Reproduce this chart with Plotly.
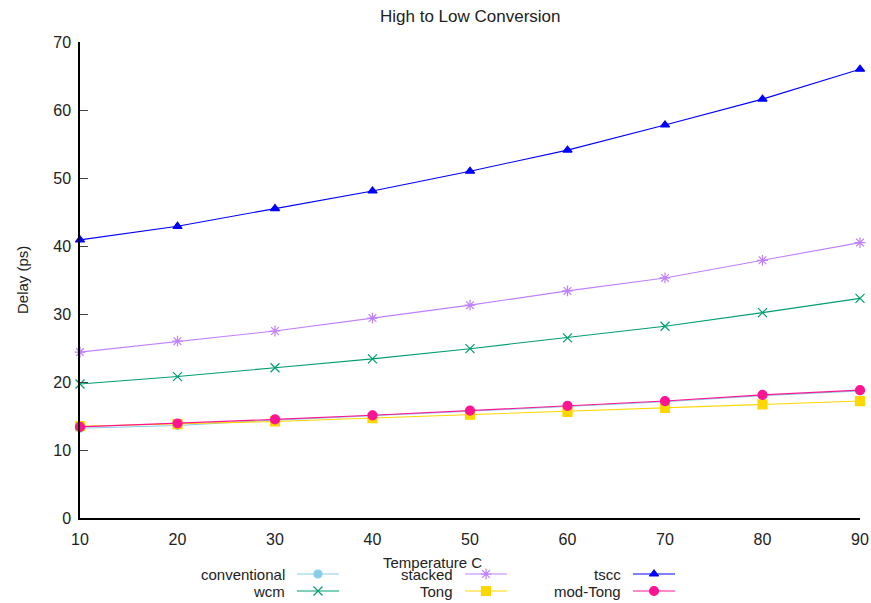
import plotly.graph_objects as go

# Temperature sweep (deg C)
temperature = [10, 20, 30, 40, 50, 60, 70, 80, 90]

# Delay (ps) for each level-shifter design
conventional = [13.2, 13.6, 14.4, 15.0, 15.7, 16.4, 17.1, 18.0, 18.7]
stacked = [24.4, 26.0, 27.5, 29.4, 31.3, 33.4, 35.3, 37.9, 40.5]
tscc = [40.9, 42.9, 45.5, 48.1, 51.0, 54.1, 57.8, 61.6, 66.0]
wcm = [19.7, 20.8, 22.1, 23.4, 24.9, 26.5, 28.2, 30.2, 32.3]
tong = [13.5, 13.8, 14.2, 14.7, 15.2, 15.6, 16.2, 16.7, 17.2]
mod_tong = [13.4, 13.9, 14.5, 15.1, 15.8, 16.5, 17.2, 18.1, 18.8]

series_names = ["conventional", "stacked", "tscc", "wcm", "Tong", "mod-Tong"]
series_values = [conventional, stacked, tscc, wcm, tong, mod_tong]
series_colors = ["#87ceeb", "#c080ff", "#0000ff", "#009e73", "#ffd700", "#ff1493"]
series_symbols = ["circle", "asterisk-open", "triangle-up", "x-thin-open", "square", "circle"]
series_sizes = [8, 9, 8, 9, 9, 9]

y_ticks = [0, 10, 20, 30, 40, 50, 60, 70]

W, H = 871, 603
PLOT_L, PLOT_R, PLOT_T, PLOT_B = 80, 860, 42, 518
FONT = "Liberation Sans, Arial, sans-serif"
TEXT = "#222222"
LINE_W = 1.1

fig = go.Figure()

# draw order: lower-priority lines first so mod-Tong sits on top
order = [0, 4, 5, 3, 1, 2]
for i in order:
    fig.add_trace(go.Scatter(
        x=temperature, y=series_values[i], name=series_names[i],
        mode="lines+markers",
        line=dict(color=series_colors[i], width=LINE_W),
        marker=dict(symbol=series_symbols[i], size=series_sizes[i],
                    color=series_colors[i],
                    line=dict(color=series_colors[i], width=1.2)),
        showlegend=False, hoverinfo="skip", cliponaxis=False,
    ))

# Custom legend (label left of the key), drawn on a pixel-space overlay axis
legend_cols = [297, 465, 633]
legend_rows = [574, 591]
key_len = 42
for k, i in enumerate(range(6)):
    row, col = divmod(k, 3)
    x0 = legend_cols[col]
    y0 = legend_rows[row]
    fig.add_trace(go.Scatter(
        x=[x0, x0 + key_len], y=[y0, y0], mode="lines",
        line=dict(color=series_colors[i], width=LINE_W),
        xaxis="x2", yaxis="y2", showlegend=False, hoverinfo="skip",
    ))
    fig.add_trace(go.Scatter(
        x=[x0 + key_len / 2], y=[y0], mode="markers",
        marker=dict(symbol=series_symbols[i], size=series_sizes[i],
                    color=series_colors[i],
                    line=dict(color=series_colors[i], width=1.2)),
        xaxis="x2", yaxis="y2", showlegend=False, hoverinfo="skip",
    ))
    fig.add_annotation(
        x=x0 - 10, y=y0, xref="x2", yref="y2", text=series_names[i],
        showarrow=False, xanchor="right", yanchor="middle",
        font=dict(family=FONT, size=15, color=TEXT),
    )

fig.update_layout(
    width=W, height=H,
    margin=dict(l=0, r=0, t=0, b=0),
    paper_bgcolor="white", plot_bgcolor="rgba(0,0,0,0)",
    font=dict(family=FONT, size=16, color=TEXT),
    showlegend=False,
    xaxis=dict(
        domain=[PLOT_L / W, PLOT_R / W],
        range=[10, 90], tickvals=temperature,
        showgrid=False, zeroline=False,
        showline=True, linecolor="#000000", linewidth=1.5,
        ticks="", ticklabelstandoff=6,
        tickfont=dict(family=FONT, size=16, color=TEXT),
        automargin=False,
    ),
    yaxis=dict(
        domain=[(H - PLOT_B) / H, (H - PLOT_T) / H],
        range=[0, 70], tickvals=y_ticks,
        showgrid=False, zeroline=False,
        showline=True, linecolor="#000000", linewidth=1.5,
        ticks="inside", ticklen=8, tickcolor="#444444", tickwidth=1,
        ticklabelstandoff=4,
        tickfont=dict(family=FONT, size=16, color=TEXT),
        automargin=False,
    ),
    xaxis2=dict(domain=[0, 1], range=[0, W], visible=False, fixedrange=True,
                anchor="y2"),
    yaxis2=dict(domain=[0, 1], range=[H, 0], visible=False, fixedrange=True,
                anchor="x2"),
)

fig.add_annotation(
    x=0.5 * (PLOT_L + PLOT_R), y=16, xref="x2", yref="y2",
    text="High to Low Conversion", showarrow=False,
    font=dict(family=FONT, size=17, color=TEXT),
)
fig.add_annotation(
    x=432, y=562, xref="x2", yref="y2",
    text="Temperature C", showarrow=False,
    font=dict(family=FONT, size=15, color=TEXT),
)
fig.add_annotation(
    x=22, y=0.5 * (PLOT_T + PLOT_B), xref="x2", yref="y2",
    text="Delay (ps)", showarrow=False, textangle=-90,
    font=dict(family=FONT, size=15, color=TEXT),
)

fig.write_html("out.html")
